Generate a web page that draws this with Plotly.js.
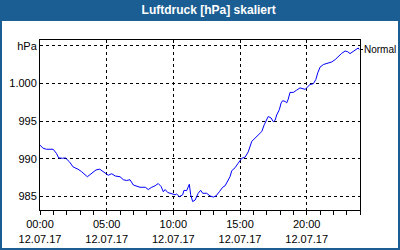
<!DOCTYPE html>
<html>
<head>
<meta charset="utf-8">
<script src="https://cdn.plot.ly/plotly-3.0.1.min.js"></script>
<style>html,body{margin:0;padding:0;background:#fff;}#chart{width:400px;height:250px;}</style>
</head>
<body>
<div id="chart"></div>
<script>
const dateStr = "2017-07-12";
const times = ["00:00","00:13","00:28","00:59","01:14","01:24","01:42","01:54","02:12","02:29","02:51","03:06","03:33","03:51","04:12","04:29","04:39","04:53","05:07","05:23","05:38","06:00","06:15","06:30","06:45","07:00","07:15","07:30","07:54","08:07","08:23","08:38","08:52","09:05","09:15","09:23","09:35","09:53","10:08","10:15","10:27","10:42","10:48","11:00","11:08","11:12","11:18","11:27","11:38","11:52","12:03","12:12","12:30","12:45","13:00","13:12","13:27","13:42","13:53","14:03","14:15","14:23","14:38","14:52","15:08","15:23","15:37","15:53","16:08","16:22","16:38","16:49","17:00","17:07","17:20","17:30","17:38","17:45","17:57","18:05","18:12","18:23","18:30","18:37","18:45","19:00","19:15","19:30","19:53","20:05","20:15","20:30","20:41","20:50","21:00","21:15","21:30","21:53","22:08","22:22","22:38","22:53","23:05","23:15","23:30","23:45","23:52","23:56"];
const pressure = [991.8,991.4,991.25,991.25,990.7,990.1,990.05,990.1,989.6,988.9,988.6,988.3,987.6,988.0,988.5,988.6,988.4,988.1,987.8,988.0,987.7,987.6,987.2,987.1,987.2,986.5,986.3,986.2,986.2,985.9,986.2,986.4,986.7,986.3,985.6,985.9,985.5,985.3,985.2,985.3,984.95,985.2,985.8,985.75,986.4,986.6,985.2,984.3,984.5,985.4,985.8,985.4,985.4,985.05,984.9,985.05,985.6,986.2,986.4,986.9,987.6,988.4,988.8,989.4,990.05,990.2,990.9,992.3,992.7,993.15,993.6,994.5,995.25,995.6,995.4,994.9,995.1,995.8,996.5,997.4,997.7,997.6,997.4,997.9,998.8,998.8,999.1,999.4,999.2,999.5,999.85,999.95,1000.5,1001.4,1002.15,1002.5,1002.6,1002.85,1003.15,1003.6,1004.0,1004.3,1004.2,1003.95,1004.3,1004.6,1004.7,1004.5];
const seriesName = "Normal";
const titleText = "Luftdruck [hPa] skaliert";
const yTickVals = [985, 990, 995, 1000, 1005];
const yTickText = ["985", "990", "995", "1.000", "hPa"];
const xTickTimes = ["00:00", "05:00", "10:00", "15:00", "20:00"];
const xTickDate = "12.07.17";

const x = times.map(t => dateStr + " " + t);
const blue = "#1b5e93";
const F = "Liberation Sans, Arial, sans-serif";

Plotly.newPlot("chart", [{
  x: x, y: pressure, type: "scatter", mode: "lines", name: seriesName,
  line: {color: "#0000ff", width: 1}, hoverinfo: "none"
}], {
  width: 400, height: 250,
  margin: {l: 40, r: 40, t: 40, b: 40},
  paper_bgcolor: "#ffffff", plot_bgcolor: "#ffffff",
  showlegend: false,
  font: {family: F, size: 11, color: "#000"},
  title: {text: titleText, font: {family: F, size: 12, color: "#fff", weight: "bold"},
          x: 0.527, xref: "paper", xanchor: "center", y: 0.96, yref: "container", yanchor: "middle"},
  xaxis: {
    type: "date",
    range: [dateStr + " 00:00", "2017-07-13 00:00"],
    tickvals: xTickTimes.map(t => dateStr + " " + t),
    ticktext: xTickTimes.map(t => t + "<br>" + xTickDate),
    ticks: "outside", ticklen: 4, tickwidth: 1, tickcolor: "#000",
    minor: {dtick: 3600000, ticks: "outside", ticklen: 4, tickwidth: 1, tickcolor: "#000", showgrid: false},
    showgrid: true, gridcolor: "#000", gridwidth: 1, griddash: "3px,3px",
    showline: true, linecolor: "#000", linewidth: 1, mirror: true,
    zeroline: false, fixedrange: true, tickfont: {family: F, size: 11, color: "#000"}
  },
  yaxis: {
    range: [983.18, 1005.76],
    tickvals: yTickVals, ticktext: yTickText,
    ticks: "", ticklen: 0,
    showgrid: true, gridcolor: "#000", gridwidth: 1, griddash: "3px,3px",
    showline: true, linecolor: "#000", linewidth: 1, mirror: true,
    zeroline: false, fixedrange: true, tickfont: {family: F, size: 11, color: "#000"}
  },
  shapes: [
    {type: "rect", xref: "paper", yref: "paper", x0: -0.125, x1: 1.125, y0: 1.112, y1: 1.2353,
     fillcolor: blue, line: {width: 0}, layer: "below"},
    {type: "rect", xref: "paper", yref: "paper", x0: -0.125, x1: 1.125, y0: -0.2353, y1: 1.2353,
     fillcolor: "rgba(0,0,0,0)", line: {color: blue, width: 4}}
  ],
  annotations: [{
    xref: "paper", yref: "y", x: 1, y: pressure[pressure.length - 1],
    text: seriesName, showarrow: true, arrowhead: 0, arrowwidth: 1, arrowcolor: "#000",
    ax: 3, ay: 0, xanchor: "left", yanchor: "middle", borderpad: 0,
    font: {family: F, size: 10, color: "#000"}
  }]
}, {staticPlot: true, displayModeBar: false});
</script>
</body>
</html>
